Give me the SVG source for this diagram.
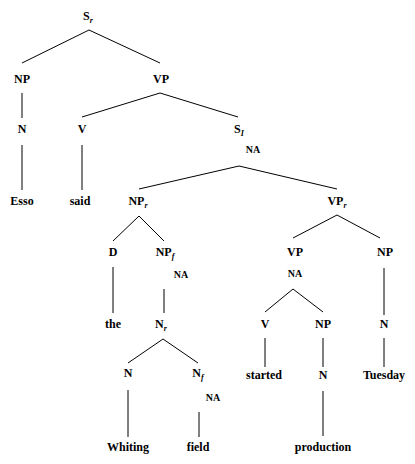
<svg xmlns="http://www.w3.org/2000/svg" width="415" height="464" viewBox="0 0 415 464">
<style>
text{font-family:"Liberation Serif","Times New Roman",serif;font-weight:bold;font-size:12px;fill:#000;text-anchor:middle}
.sub{font-style:italic;font-size:8px}
.na{font-size:10px}
line{stroke:#000;stroke-width:1}
</style>
<rect width="415" height="464" fill="#fff"/>
<g id="connectors">
<line x1="89" y1="30" x2="22" y2="63"/>
<line x1="89" y1="30" x2="160" y2="63"/>
<line x1="22" y1="93" x2="22" y2="118"/>
<line x1="22" y1="145" x2="22" y2="190"/>
<line x1="160" y1="93" x2="82" y2="117"/>
<line x1="160" y1="93" x2="238" y2="117"/>
<line x1="82" y1="145" x2="82" y2="190"/>
<line x1="239" y1="166" x2="139" y2="189"/>
<line x1="239" y1="166" x2="337" y2="189"/>
<line x1="139" y1="216" x2="113" y2="241"/>
<line x1="139" y1="216" x2="164" y2="241"/>
<line x1="113" y1="267" x2="113" y2="313"/>
<line x1="164" y1="289" x2="164" y2="313"/>
<line x1="163" y1="339" x2="128" y2="363"/>
<line x1="163" y1="339" x2="198" y2="363"/>
<line x1="128" y1="390" x2="128" y2="437"/>
<line x1="199" y1="412" x2="199" y2="437"/>
<line x1="337" y1="215" x2="293" y2="238"/>
<line x1="337" y1="215" x2="380" y2="238"/>
<line x1="293" y1="289" x2="265" y2="312"/>
<line x1="293" y1="289" x2="323" y2="312"/>
<line x1="384" y1="268" x2="384" y2="315"/>
<line x1="265" y1="338" x2="265" y2="367"/>
<line x1="323" y1="338" x2="323" y2="367"/>
<line x1="384" y1="338" x2="384" y2="367"/>
<line x1="323" y1="391" x2="323" y2="436"/>
</g>
<g id="n-Sr"><text x="88" y="20">S<tspan class="sub" dy="3">r</tspan></text></g>
<g id="n-NP1"><text x="22" y="83">NP</text></g>
<g id="n-VP1"><text x="161" y="83">VP</text></g>
<g id="n-N1"><text x="22" y="133">N</text></g>
<g id="n-V1"><text x="82" y="133">V</text></g>
<g id="n-Esso"><text x="22" y="205">Esso</text></g>
<g id="n-said"><text x="80" y="205">said</text></g>
<g id="n-SI"><text x="239" y="133">S<tspan class="sub" dy="3">I</tspan></text><text class="na" x="253" y="153">NA</text></g>
<g id="n-NPr"><text x="138" y="205">NP<tspan class="sub" dy="3">r</tspan></text></g>
<g id="n-VPr"><text x="337" y="205">VP<tspan class="sub" dy="3">r</tspan></text></g>
<g id="n-D"><text x="113" y="256">D</text></g>
<g id="n-NPf"><text x="165" y="256">NP<tspan class="sub" dy="3">f</tspan></text><text class="na" x="181" y="278">NA</text></g>
<g id="n-the"><text x="113" y="328">the</text></g>
<g id="n-Nr"><text x="161" y="328">N<tspan class="sub" dy="3">r</tspan></text></g>
<g id="n-N2"><text x="128" y="377">N</text></g>
<g id="n-Nf"><text x="198" y="377">N<tspan class="sub" dy="3">f</tspan></text><text class="na" x="213" y="401">NA</text></g>
<g id="n-Whiting"><text x="128" y="451">Whiting</text></g>
<g id="n-field"><text x="198" y="451">field</text></g>
<g id="n-VP2"><text x="295" y="256">VP</text><text class="na" x="295" y="277">NA</text></g>
<g id="n-NP3"><text x="385" y="256">NP</text></g>
<g id="n-V2"><text x="265" y="328">V</text></g>
<g id="n-NP4"><text x="323" y="328">NP</text></g>
<g id="n-N3"><text x="384" y="328">N</text></g>
<g id="n-started"><text x="264" y="379">started</text></g>
<g id="n-N4"><text x="323" y="379">N</text></g>
<g id="n-Tuesday"><text x="384" y="379">Tuesday</text></g>
<g id="n-production"><text x="323" y="451">production</text></g>
</svg>
